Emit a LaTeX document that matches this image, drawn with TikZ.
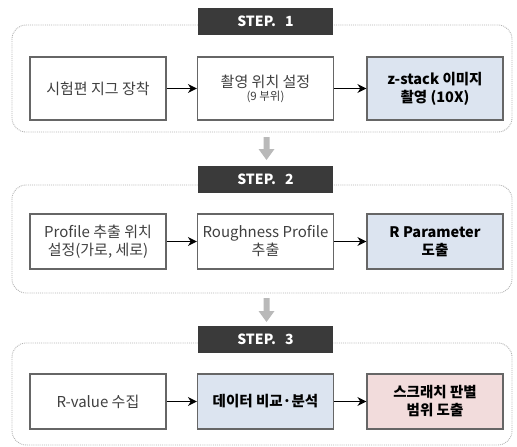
\documentclass[tikz,border=0pt]{standalone}
\usepackage{fontspec}
\setmainfont{Noto Sans CJK KR}
\usetikzlibrary{arrows.meta}
\definecolor{headgray}{HTML}{3A3A3A}
\definecolor{boxblue}{HTML}{DCE4F0}
\definecolor{boxpink}{HTML}{F2DCDC}
\tikzset{
  group/.style={draw=gray!60, densely dotted, rounded corners=14pt, line width=0.9pt},
  stephead/.style={fill=headgray, text=white, font=\bfseries\fontsize{14}{16}\selectfont,
    minimum width=135pt, minimum height=27pt, inner sep=0pt},
  proc/.style={draw=black!60, fill=white, line width=1.2pt, align=center, inner sep=0pt,
    minimum width=136pt, font=\fontsize{15}{18}\selectfont, text=black!75},
  hot/.style={proc, font=\bfseries\fontsize{14.5}{18}\selectfont, text=black},
  flow/.style={-{Stealth[length=9pt,width=9pt]}, line width=1.6pt},
  down/.style={fill=gray!55}
}
\begin{document}
\begin{tikzpicture}[x=1pt, y=-1pt]
    \useasboundingbox (0,0) rectangle (517,447);

    % step 1
    \draw[group] (12,25) rectangle (512,132);
    \node[stephead] (h1) at (265.5,21.5) {STEP.\hspace{9pt}1};
    \node[proc, minimum height=63pt] (a1) at (98,88.5) {시험편 지그 장착};
    \node[proc, minimum height=63pt] (a2) at (265.5,88.5) {촬영 위치 설정\\[-5pt]{\fontsize{11.5}{13}\selectfont (9 부위)}};
    \node[hot, minimum height=63pt, fill=boxblue] (a3) at (435,88.5) {z-stack 이미지\\촬영 (10X)};
    \draw[flow] (a1) -- (a2);
    \draw[flow] (a2) -- (a3);

    % down
    \fill[down] (263.5,137) -- (269.5,137) -- (269.5,149) -- (274.5,149) -- (266.5,160) -- (258.5,149) -- (263.5,149) -- cycle;

    % step 2
    \draw[group] (12,185) rectangle (512,293);
    \node[stephead] (h2) at (265.5,179.5) {STEP.\hspace{9pt}2};
    \node[proc, minimum height=55pt] (b1) at (98,241.5) {Profile 추출 위치\\설정(가로, 세로)};
    \node[proc, minimum height=55pt] (b2) at (265.5,241.5) {Roughness Profile\\추출};
    \node[hot, minimum height=55pt, fill=boxblue] (b3) at (435,241.5) {R Parameter\\도출};
    \draw[flow] (b1) -- (b2);
    \draw[flow] (b2) -- (b3);

    % down
    \fill[down] (263.5,298) -- (269.5,298) -- (269.5,311) -- (274.5,311) -- (266.5,322) -- (258.5,311) -- (263.5,311) -- cycle;

    % step 3
    \draw[group] (12,343) rectangle (512,445);
    \node[stephead] (h3) at (265.5,339.5) {STEP.\hspace{9pt}3};
    \node[proc, minimum height=55pt] (c1) at (98,401.5) {R-value 수집};
    \node[hot, minimum height=55pt, fill=boxblue] (c2) at (265.5,401.5) {데이터 비교·분석};
    \node[hot, minimum height=55pt, fill=boxpink] (c3) at (435,401.5) {스크래치 판별\\범위 도출};
    \draw[flow] (c1) -- (c2);
    \draw[flow] (c2) -- (c3);
\end{tikzpicture}
\end{document}
